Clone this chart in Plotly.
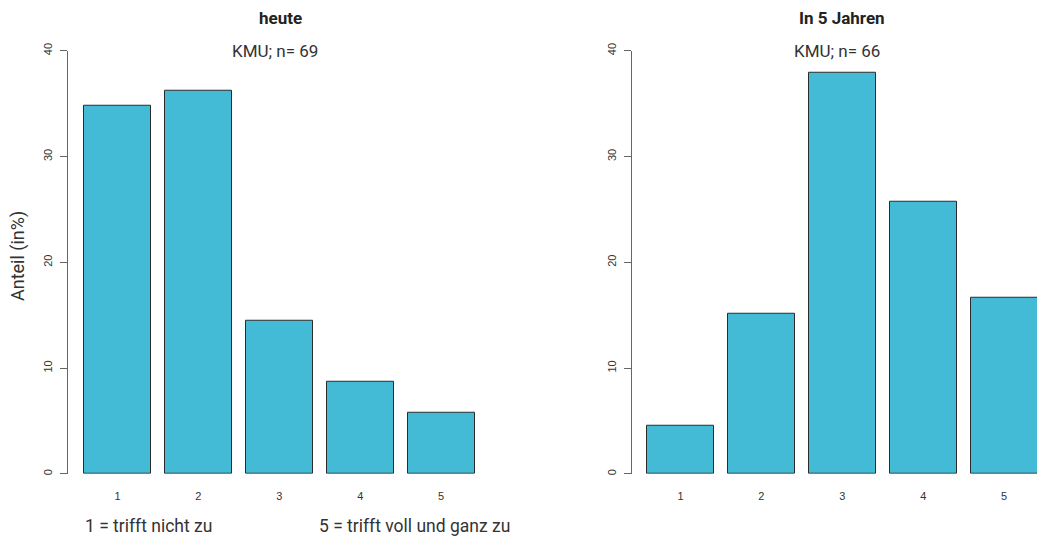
import plotly.graph_objects as go

categories = ["1", "2", "3", "4", "5"]
heute_values = [34.78, 36.23, 14.49, 8.70, 5.80]
jahre5_values = [4.55, 15.15, 37.88, 25.76, 16.67]
titles = ["heute", "In 5 Jahren"]
subtitles = ["KMU; n= 69", "KMU; n= 66"]
y_ticks = [0, 10, 20, 30, 40]
y_title = "Anteil (in%)"
note_left = "1 = trifft nicht zu"
note_right = "5 = trifft voll und ganz zu"

W, H = 1037, 537
FONT = "Roboto"
TICKFONT = "Liberation Sans"
BAR_COLOR = "#43BBD7"
xpos = [1, 2, 3, 4, 5]

# vertical calibration of the capture (observed offset/scale)
OFF_Y, SC_Y = 8.3, 0.982

def px_x(p):
    return p / W

def px_y(p):
    q = (p - OFF_Y) / SC_Y
    return 1 - q / H

fig = go.Figure()
for i, vals in enumerate([heute_values, jahre5_values]):
    sfx = "" if i == 0 else "2"
    fig.add_trace(go.Bar(
        x=xpos, y=vals, width=0.83,
        marker=dict(color=BAR_COLOR, line=dict(color="#2b2b2b", width=1)),
        xaxis="x" + sfx, yaxis="y" + sfx, showlegend=False,
        hoverinfo="x+y",
    ))

yd = [px_y(473.5), px_y(51)]
common_y = dict(
    range=[0, 40], tickvals=y_ticks, ticktext=[str(v) for v in y_ticks],
    showgrid=False, zeroline=False, showline=True, linecolor="#666", linewidth=1,
    ticks="outside", ticklen=7, tickcolor="#666", tickangle=-90,
    tickfont=dict(family=TICKFONT, size=11, color="#333"), ticklabelstandoff=4,
    domain=yd,
)
common_x = dict(
    tickvals=xpos, ticktext=categories, showgrid=False, zeroline=False,
    showline=False, ticks="", tickfont=dict(family=TICKFONT, size=11, color="#333"),
    ticklabelstandoff=14,
)
pxu = 80.9
fig.update_layout(
    width=W, height=H, margin=dict(l=0, r=0, t=0, b=0),
    plot_bgcolor="white", paper_bgcolor="white",
    xaxis=dict(**common_x, domain=[px_x(68), px_x(500)],
               range=[1 - 49.5 / pxu, 1 + (500 - 117.5) / pxu], anchor="y"),
    yaxis=dict(**common_y, anchor="x"),
    xaxis2=dict(**common_x, domain=[px_x(632), 1.0],
                range=[1 - 48.5 / pxu, 1 + (1037 - 680.5) / pxu], anchor="y2"),
    yaxis2=dict(**common_y, anchor="x2"),
    bargap=0,
)

ann = []
for cx, t, s in [(280, titles[0], subtitles[0]), (841.5, titles[1], subtitles[1])]:
    ann.append(dict(x=px_x(cx), y=px_y(18), xref="paper", yref="paper", text="<b>" + t + "</b>",
                    showarrow=False, font=dict(family=FONT, size=17, color="#222"),
                    xanchor="center", yanchor="middle"))
    ann.append(dict(x=px_x(cx - 5), y=px_y(51), xref="paper", yref="paper", text=s,
                    showarrow=False, font=dict(family=FONT, size=17, color="#333"),
                    xanchor="center", yanchor="middle"))
ann.append(dict(x=px_x(18), y=px_y(256), xref="paper", yref="paper", text=y_title,
                textangle=-90, showarrow=False, font=dict(family=FONT, size=18, color="#333"),
                xanchor="center", yanchor="middle"))
ann.append(dict(x=px_x(83), y=px_y(526), xref="paper", yref="paper", text=note_left,
                showarrow=False, font=dict(family=FONT, size=17.5, color="#333"),
                xanchor="left", yanchor="middle"))
ann.append(dict(x=px_x(317), y=px_y(526), xref="paper", yref="paper", text=note_right,
                showarrow=False, font=dict(family=FONT, size=17.5, color="#333"),
                xanchor="left", yanchor="middle"))
fig.update_layout(annotations=ann)

fig.write_html(
    "out.html",
    config={"displayModeBar": False, "responsive": False},
    post_script="document.documentElement.style.margin='0';document.body.style.margin='0';"
                "document.body.style.padding='0';document.body.style.overflow='hidden';"
                "document.documentElement.style.overflow='hidden';"
                "var g=document.querySelector('.plotly-graph-div');"
                "g.style.position='absolute';g.style.top='0px';g.style.left='0px';",
)
